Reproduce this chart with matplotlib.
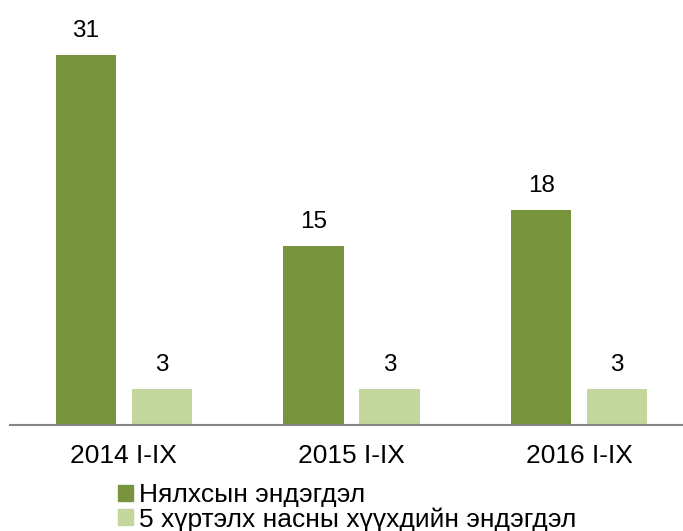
import matplotlib
matplotlib.use('Agg')
import matplotlib.pyplot as plt
from matplotlib.patches import Patch
import numpy as np

plt.rcParams['font.family'] = ['Liberation Sans', 'DejaVu Sans']

categories = ['2014 I-IX', '2015 I-IX', '2016 I-IX']
infant = [31, 15, 18]
under5 = [3, 3, 3]
series_names = ['Нялхсын эндэгдэл', '5 хүртэлх насны хүүхдийн эндэгдэл']
colors = ['#77933C', '#C3D69B']

W, H = 683, 531
fig = plt.figure(figsize=(W / 100, H / 100), dpi=100)
# axes in pixel terms: x from 10 to ~693, baseline at y=425
ax = fig.add_axes([10 / W, 106 / H, 683 / W, (425 - 7) / H])

x = np.arange(len(categories))
bw = 0.264
off = 0.167
b1 = ax.bar(x - off, infant, bw, color=colors[0])
b2 = ax.bar(x + off, under5, bw, color=colors[1])

for bars, vals in ((b1, infant), (b2, under5)):
    for rect, v in zip(bars, vals):
        ax.text(rect.get_x() + rect.get_width() / 2, v + 1.1, str(v),
                ha='center', va='bottom', fontsize=17.5, color='#000000')

ax.set_xlim(-0.5, 2.5)
ax.set_ylim(0, 35)
ax.set_xticks(x)
ax.set_xticklabels(categories, fontsize=19)
ax.tick_params(axis='x', length=0, pad=14)
ax.set_yticks([])
for s in ['top', 'right', 'left']:
    ax.spines[s].set_visible(False)
ax.spines['bottom'].set_color('#868686')
ax.spines['bottom'].set_linewidth(1.5)

handles = [Patch(color=colors[0]), Patch(color=colors[1])]
fig.legend(handles, series_names, loc='upper left',
           bbox_to_anchor=(105 / W, 1 - 470 / H), frameon=False,
           fontsize=19, handlelength=0.57, handleheight=0.57,
           handletextpad=0.2, labelspacing=0.0, borderpad=0)

fig.savefig('out.png', dpi=100)
